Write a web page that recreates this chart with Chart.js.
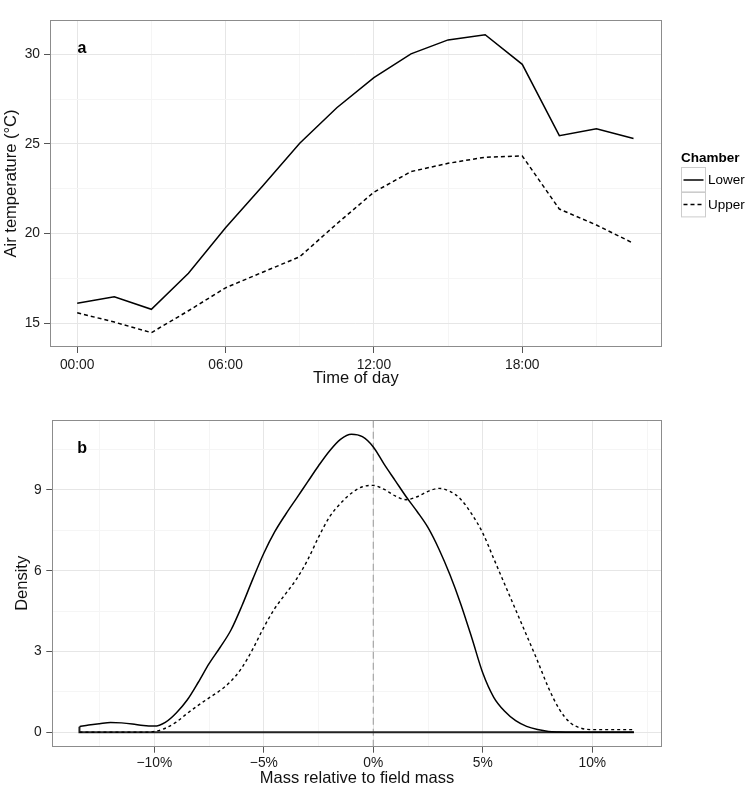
<!DOCTYPE html>
<html><head><meta charset="utf-8">
<script src="https://cdn.jsdelivr.net/npm/chart.js@4/dist/chart.umd.min.js"></script>
<style>
html,body{margin:0;padding:0;background:#fff;overflow:hidden;width:746px;height:785px;position:relative}
canvas{position:absolute;left:0}
#c1{top:0}
#c2{top:392px}
</style></head><body>
<canvas id="c1" width="746" height="392"></canvas>
<canvas id="c2" width="746" height="396"></canvas>
<script>
// ---- Panel a: air temperature by time of day ----
const hours = [0, 1.5, 3, 4.5, 6, 7.5, 9, 10.5, 12, 13.5, 15, 16.5, 18, 19.5, 21, 22.5];
const lowerTemp = [16.12, 16.48, 15.78, 17.79, 20.33, 22.65, 25.04, 27.02, 28.7, 30.02, 30.8, 31.09, 29.44, 25.46, 25.85, 25.3];
const upperTemp = [15.59, 15.07, 14.48, 15.7, 16.98, 17.85, 18.71, 20.55, 22.31, 23.46, 23.92, 24.26, 24.33, 21.37, 20.48, 19.46];
const timeTicks = [0, 6, 12, 18];
const tempTicks = [15, 20, 25, 30];
const chamberNames = ['Lower', 'Upper'];

// ---- Panel b: density of mass relative to field mass (%) ----
const massLowerX = [-13.42, -13.0, -12.5, -12.0, -11.5, -11.0, -10.5, -10.0, -9.5, -9.0, -8.5, -8.0, -7.5, -7.0, -6.5, -6.0, -5.5, -5.0, -4.5, -4.0, -3.5, -3.0, -2.5, -2.0, -1.5, -1.0, -0.5, 0, 0.5, 1.0, 1.5, 2.0, 2.5, 3.0, 3.5, 4.0, 4.5, 5.0, 5.5, 6.0, 6.5, 7.0, 7.5, 8.0, 8.5, 9.0, 10.0, 11.0, 11.9];
const lowerDensity = [0.21, 0.27, 0.32, 0.36, 0.35, 0.31, 0.25, 0.23, 0.37, 0.72, 1.2, 1.85, 2.55, 3.15, 3.8, 4.7, 5.7, 6.65, 7.45, 8.1, 8.7, 9.3, 9.9, 10.45, 10.88, 11.07, 10.98, 10.6, 9.95, 9.35, 8.75, 8.2, 7.6, 6.8, 5.85, 4.75, 3.5, 2.2, 1.3, 0.78, 0.43, 0.22, 0.1, 0.03, 0.01, 0, 0, 0, 0];
const massUpperX = [-13.42, -12.0, -11.0, -10.5, -10.0, -9.5, -9.0, -8.5, -8.0, -7.5, -7.0, -6.5, -6.0, -5.5, -5.0, -4.5, -4.0, -3.5, -3.0, -2.5, -2.0, -1.5, -1.0, -0.5, 0, 0.5, 1.0, 1.5, 2.0, 2.5, 3.0, 3.5, 4.0, 4.5, 5.0, 5.5, 6.0, 6.5, 7.0, 7.5, 8.0, 8.5, 9.0, 9.5, 10.0, 11.0, 11.9];
const upperDensity = [0, 0, 0, 0, 0.03, 0.15, 0.38, 0.7, 1.0, 1.28, 1.55, 1.9, 2.4, 3.1, 3.9, 4.6, 5.15, 5.7, 6.4, 7.25, 8.0, 8.5, 8.88, 9.12, 9.17, 9.02, 8.78, 8.64, 8.75, 8.95, 9.06, 8.95, 8.65, 8.1, 7.4, 6.45, 5.5, 4.55, 3.6, 2.65, 1.65, 0.85, 0.35, 0.15, 0.1, 0.1, 0.1];
const massTicks = [-10, -5, 0, 5, 10];
const densityTicks = [0, 3, 6, 9];
const refLine = 0;

Chart.defaults.font.family = "'Liberation Sans', Arial, Helvetica, sans-serif";
Chart.defaults.color = '#1a1a1a';

function allTicks(majors, min, max) {
  const half = (majors[1] - majors[0]) / 2;
  const out = [];
  for (let k = -2; k <= 2 * (majors.length - 1) + 2; k++) {
    const v = majors[0] + k * half;
    if (v >= min && v <= max) out.push(v);
  }
  return out;
}

function axis(o) {
  const ticks = allTicks(o.majors, o.min, o.max);
  const isMajor = v => o.majors.some(m => Math.abs(m - v) < 1e-9);
  return {
    type: 'linear', min: o.min, max: o.max,
    afterBuildTicks: s => { s.ticks = ticks.map(v => ({ value: v })); },
    afterFit: s => { if (s.isHorizontal()) s.height = o.size; else s.width = o.size; },
    ticks: {
      autoSkip: false, maxRotation: 0, minRotation: 0, padding: o.tickPad,
      color: '#1a1a1a', font: { size: 13.8 },
      callback: v => isMajor(v) ? o.fmt(v) : ''
    },
    grid: {
      color: c => (c.tick && isMajor(c.tick.value)) ? '#e6e6e6' : '#f5f5f5',
      lineWidth: 1, drawTicks: true, tickLength: 6,
      tickColor: c => (c.tick && isMajor(c.tick.value)) ? '#555555' : 'rgba(0,0,0,0)',
      tickWidth: 1
    },
    border: { display: false },
    title: { display: true, text: o.title, color: '#111', font: { size: 16.5 }, padding: o.titlePad }
  };
}

const framePlugin = {
  id: 'frame',
  afterDatasetsDraw(chart, args, opts) {
    const { ctx, chartArea: { left, top, right, bottom } } = chart;
    ctx.save();
    ctx.strokeStyle = '#8c8c8c';
    ctx.lineWidth = 1;
    const l = Math.round(left) + 0.5, t = Math.round(top) + 0.5;
    const r = Math.round(right) - 0.5, b = Math.round(bottom) - 0.5;
    ctx.strokeRect(l, t, r - l, b - t);
    ctx.fillStyle = '#000';
    ctx.font = "bold 16px 'Liberation Sans', Arial, sans-serif";
    ctx.textAlign = 'left';
    ctx.textBaseline = 'middle';
    ctx.fillText(opts.text, left + opts.dx, top + opts.dy);
    ctx.restore();
  }
};

const legendPlugin = {
  id: 'chamberLegend',
  afterDraw(chart, args, opts) {
    if (!opts.show) return;
    const ctx = chart.ctx;
    const x0 = 681, boxW = 24, boxH = 24.4, y0 = 167.3;
    ctx.save();
    ctx.fillStyle = '#000';
    ctx.textAlign = 'left';
    ctx.textBaseline = 'middle';
    ctx.font = "bold 13.5px 'Liberation Sans', Arial, sans-serif";
    ctx.fillText('Chamber', x0, 158.5);
    chart.data.datasets.forEach((ds, i) => {
      const y = y0 + i * boxH;
      ctx.strokeStyle = '#cccccc';
      ctx.lineWidth = 1;
      ctx.setLineDash([]);
      ctx.strokeRect(x0 + 0.5, Math.round(y) + 0.5, boxW, boxH);
      ctx.strokeStyle = ds.borderColor;
      ctx.lineWidth = ds.borderWidth;
      ctx.setLineDash(ds.borderDash || []);
      ctx.beginPath();
      ctx.moveTo(x0 + 2.5, y + boxH / 2 + 0.5);
      ctx.lineTo(x0 + boxW - 1.5, y + boxH / 2 + 0.5);
      ctx.stroke();
      ctx.setLineDash([]);
      ctx.font = "13.5px 'Liberation Sans', Arial, sans-serif";
      ctx.fillText(ds.label, x0 + boxW + 3, y + boxH / 2 + 1);
    });
    ctx.restore();
  }
};

const pad2 = v => String(v).padStart(2, '0') + ':00';
const pct = v => (v < 0 ? '\u2212' + Math.abs(v) : String(v)) + '%';

// Panel a
new Chart(document.getElementById('c1'), {
  type: 'line',
  data: {
    datasets: [
      { label: chamberNames[0], data: hours.map((h, i) => ({ x: h, y: lowerTemp[i] })), borderColor: '#000', borderWidth: 1.5, pointRadius: 0, tension: 0, fill: false },
      { label: chamberNames[1], data: hours.map((h, i) => ({ x: h, y: upperTemp[i] })), borderColor: '#000', borderWidth: 1.5, borderDash: [4, 3], pointRadius: 0, tension: 0, fill: false }
    ]
  },
  options: {
    responsive: false, maintainAspectRatio: false, animation: false, devicePixelRatio: 1,
    layout: { padding: { left: 0, top: 20, right: 84.3, bottom: 0 } },
    plugins: {
      legend: { display: false }, tooltip: { enabled: false },
      frame: { text: 'a', dx: 27.5, dy: 29 },
      chamberLegend: { show: true }
    },
    scales: {
      x: axis({ min: -1.1, max: 23.64, majors: timeTicks, fmt: pad2, size: 45, tickPad: 4, title: 'Time of day', titlePad: { top: 0, bottom: 4 } }),
      y: axis({ min: 13.68, max: 31.91, majors: tempTicks, fmt: v => String(v), size: 50, tickPad: 4, title: 'Air temperature (°C)', titlePad: { top: 2, bottom: 0 } })
    }
  },
  plugins: [framePlugin, legendPlugin]
});

// Panel b
const yMinB = -0.535, yMaxB = 11.6;
const lastX = Math.max(massLowerX[massLowerX.length - 1], massUpperX[massUpperX.length - 1]);
const firstX = Math.min(massLowerX[0], massUpperX[0]);
new Chart(document.getElementById('c2'), {
  type: 'line',
  data: {
    datasets: [
      { label: 'Lower', data: massLowerX.map((x, i) => ({ x, y: lowerDensity[i] })), borderColor: '#000', borderWidth: 1.5, pointRadius: 0, cubicInterpolationMode: 'monotone', fill: false },
      { label: 'Upper', data: massUpperX.map((x, i) => ({ x, y: upperDensity[i] })), borderColor: '#000', borderWidth: 1.4, borderDash: [3, 3], pointRadius: 0, cubicInterpolationMode: 'monotone', fill: false },
      { label: 'base', data: [{ x: massLowerX[0], y: lowerDensity[0] }, { x: firstX, y: 0 }, { x: lastX, y: 0 }], borderColor: '#222', borderWidth: 2, pointRadius: 0, tension: 0, fill: false },
      { label: 'ref', data: [{ x: refLine, y: yMinB }, { x: refLine, y: yMaxB }], borderColor: '#a6a6a6', borderWidth: 1.2, borderDash: [7, 4], pointRadius: 0, tension: 0, fill: false }
    ]
  },
  options: {
    responsive: false, maintainAspectRatio: false, animation: false, devicePixelRatio: 1,
    layout: { padding: { left: 0, top: 28, right: 84.3, bottom: 0 } },
    plugins: {
      legend: { display: false }, tooltip: { enabled: false },
      frame: { text: 'b', dx: 25, dy: 28.3 },
      chamberLegend: { show: false }
    },
    scales: {
      x: axis({ min: -14.66, max: 13.17, majors: massTicks, fmt: pct, size: 41.3, tickPad: 2.3, title: 'Mass relative to field mass', titlePad: { top: 0, bottom: 0 } }),
      y: axis({ min: yMinB, max: yMaxB, majors: densityTicks, fmt: v => String(v), size: 52.3, tickPad: 4.6, title: 'Density', titlePad: { top: 13, bottom: 0 } })
    }
  },
  plugins: [framePlugin, legendPlugin]
});
</script>
</body></html>
